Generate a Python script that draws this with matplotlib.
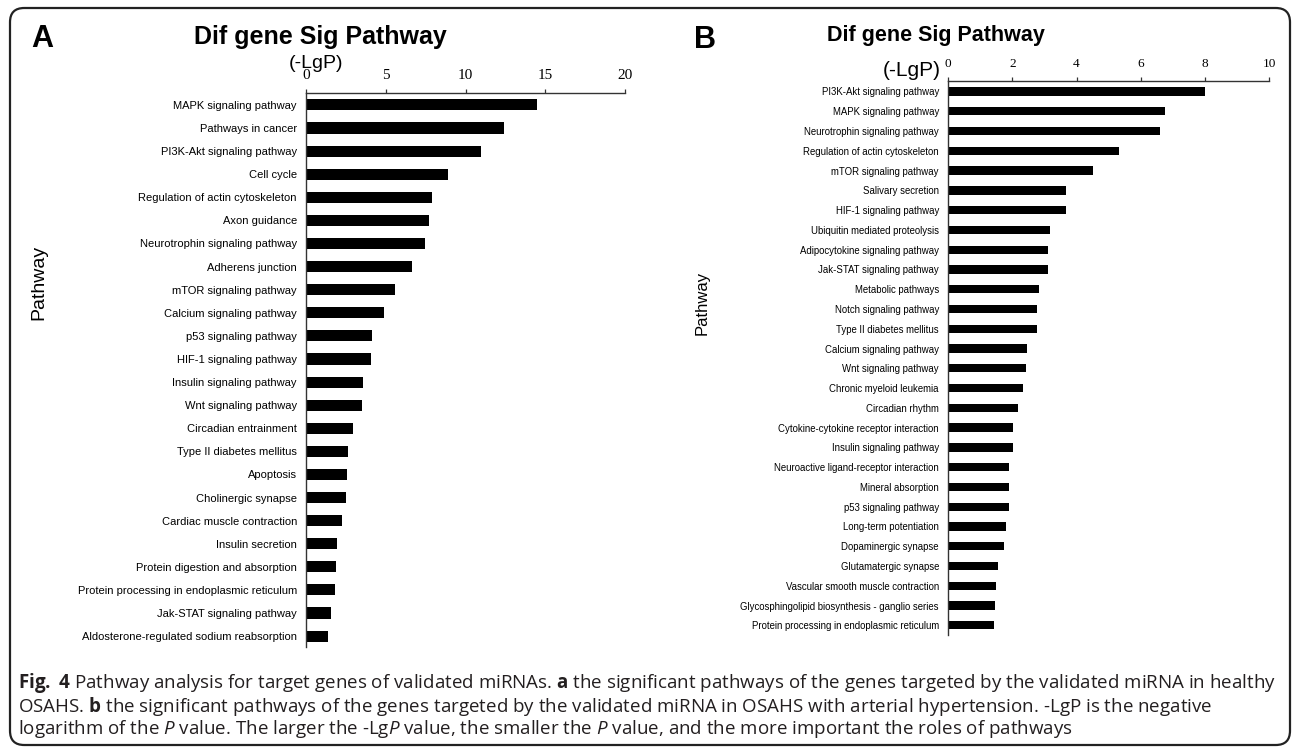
"""Pathway enrichment bars for target genes of validated miRNAs (two panels)."""
import matplotlib

matplotlib.use("Agg")
import matplotlib.pyplot as plt  # noqa: E402
from matplotlib import font_manager as fm  # noqa: E402
from matplotlib.patches import FancyBboxPatch  # noqa: E402

# panel A: healthy OSAHS
paths_a = [
    "MAPK signaling pathway", "Pathways in cancer", "PI3K-Akt signaling pathway",
    "Cell cycle", "Regulation of actin cytoskeleton", "Axon guidance",
    "Neurotrophin signaling pathway", "Adherens junction", "mTOR signaling pathway",
    "Calcium signaling pathway", "p53 signaling pathway", "HIF-1 signaling pathway",
    "Insulin signaling pathway", "Wnt signaling pathway", "Circadian entrainment",
    "Type II diabetes mellitus", "Apoptosis", "Cholinergic synapse",
    "Cardiac muscle contraction", "Insulin secretion", "Protein digestion and absorption",
    "Protein processing in endoplasmic reticulum", "Jak-STAT signaling pathway",
    "Aldosterone-regulated sodium reabsorption",
]
lgp_a = [14.5, 12.4, 10.95, 8.9, 7.89, 7.72, 7.43, 6.62, 5.56, 4.9, 4.16, 4.07,
         3.56, 3.5, 2.94, 2.66, 2.55, 2.48, 2.24, 1.95, 1.89, 1.82, 1.54, 1.41]
ticks_a = [0, 5, 10, 15, 20]

# panel B: OSAHS with arterial hypertension
paths_b = [
    "PI3K-Akt signaling pathway", "MAPK signaling pathway", "Neurotrophin signaling pathway",
    "Regulation of actin cytoskeleton", "mTOR signaling pathway", "Salivary secretion",
    "HIF-1 signaling pathway", "Ubiquitin mediated proteolysis",
    "Adipocytokine signaling pathway", "Jak-STAT signaling pathway", "Metabolic pathways",
    "Notch signaling pathway", "Type II diabetes mellitus", "Calcium signaling pathway",
    "Wnt signaling pathway", "Chronic myeloid leukemia", "Circadian rhythm",
    "Cytokine-cytokine receptor interaction", "Insulin signaling pathway",
    "Neuroactive ligand-receptor interaction", "Mineral absorption", "p53 signaling pathway",
    "Long-term potentiation", "Dopaminergic synapse", "Glutamatergic synapse",
    "Vascular smooth muscle contraction", "Glycosphingolipid biosynthesis - ganglio series",
    "Protein processing in endoplasmic reticulum",
]
lgp_b = [8.0, 6.75, 6.6, 5.31, 4.52, 3.66, 3.66, 3.16, 3.1, 3.1, 2.82, 2.77, 2.77, 2.47,
         2.44, 2.34, 2.17, 2.01, 2.01, 1.91, 1.89, 1.89, 1.79, 1.74, 1.56, 1.5, 1.47, 1.44]
ticks_b = [0, 2, 4, 6, 8, 10]

caption_lines = [
    r"$\mathbf{Fig.\ 4}$ Pathway analysis for target genes of validated miRNAs. $\mathbf{a}$ "
    r"the significant pathways of the genes targeted by the validated miRNA in healthy",
    r"OSAHS. $\mathbf{b}$ the significant pathways of the genes targeted by the validated "
    r"miRNA in OSAHS with arterial hypertension. -LgP is the negative",
    r"logarithm of the $\mathit{P}$ value. The larger the -Lg$\mathit{P}$ value, the smaller "
    r"the $\mathit{P}$ value, and the more important the roles of pathways",
]

W, H, DPI = 1295, 747, 100
SANS = "Liberation Sans"
SERIF = "Liberation Serif"
_available = {f.name for f in fm.fontManager.ttflist}
CAPTION = next((n for n in ["Liberation Sans Narrow", "Open Sans", SANS] if n in _available),
               "DejaVu Sans")

plt.rcParams["font.family"] = [SANS, "DejaVu Sans"]
plt.rcParams["mathtext.fontset"] = "custom"
plt.rcParams["mathtext.rm"] = CAPTION
plt.rcParams["mathtext.it"] = CAPTION + ":italic"
plt.rcParams["mathtext.bf"] = CAPTION + ":bold"


def fx(px):
    return px / W


def fy(py):
    return 1 - py / H


def pathway_panel(fig, box, names, values, ticks, ylim, bar_h, label_size, tick_size):
    """box = (left, top, right, bottom) in pixels."""
    l, t, r, b = box
    ax = fig.add_axes([fx(l), fy(b), fx(r - l), (b - t) / H])
    pos = list(range(len(names)))
    ax.barh(pos, values, height=bar_h, color="black")
    ax.set_xlim(ticks[0], ticks[-1])
    ax.set_ylim(*ylim)
    ax.set_yticks(pos)
    ax.set_yticklabels(names, fontsize=label_size, family=SANS)
    ax.set_xticks(ticks)
    ax.set_xticklabels([str(v) for v in ticks], family=SERIF, fontsize=tick_size)
    ax.xaxis.tick_top()
    ax.tick_params(axis="x", direction="out", length=3, width=0.9, color="#333333", pad=5)
    ax.tick_params(axis="y", length=0, pad=6.5)
    for side in ("right", "bottom"):
        ax.spines[side].set_visible(False)
    for side in ("top", "left"):
        ax.spines[side].set_color("#333333")
        ax.spines[side].set_linewidth(1.0)
    return ax


fig = plt.figure(figsize=(W / DPI, H / DPI), dpi=DPI)

# outer rounded frame
frame = FancyBboxPatch((fx(10), fy(745)), fx(1280), (745 - 8) / H,
                       boxstyle="round,pad=0,rounding_size=0.011",
                       mutation_aspect=W / H, transform=fig.transFigure,
                       facecolor="none", edgecolor="#222222", linewidth=1.6)
fig.patches.append(frame)

pathway_panel(fig, (306, 92.7, 625, 646.7), paths_a, lgp_a, ticks_a,
              (23.46, -0.53), 0.48, 8, 11)
pathway_panel(fig, (948, 80.7, 1269.3, 635), paths_b, lgp_b, ticks_b,
              (27.49, -0.546), 0.42, 6.9, 9.5)

# panel headings
fig.text(fx(42), fy(39), "A", fontsize=22, fontweight="bold", ha="center", va="center")
fig.text(fx(320), fy(37), "Dif gene Sig Pathway", fontsize=18, fontweight="bold",
         ha="center", va="center")
fig.text(fx(316), fy(63), "(-LgP)", fontsize=14, ha="center", va="center")
fig.text(fx(38.5), fy(282), "Pathway", fontsize=14, rotation=90, ha="center", va="center")

fig.text(fx(705), fy(40), "B", fontsize=22, fontweight="bold", ha="center", va="center")
fig.text(fx(935.5), fy(36), "Dif gene Sig Pathway", fontsize=15.5, fontweight="bold",
         ha="center", va="center")
fig.text(fx(941), fy(70), "(-LgP)", fontsize=15, ha="right", va="center")
fig.text(fx(702.5), fy(303), "Pathway", fontsize=12, rotation=90, ha="center", va="center")

# caption, sized so the first line fills the frame width
renderer = fig.canvas.get_renderer()
probe = fig.text(0, 0, caption_lines[0], fontsize=12, family=CAPTION)
cap_size = 12 * 1254 / probe.get_window_extent(renderer=renderer).width
probe.remove()
for i, line in enumerate(caption_lines):
    fig.text(fx(18), fy(683 + 23 * i), line, fontsize=cap_size, family=CAPTION,
             color="#231f20", ha="left", va="center")

fig.savefig("out.png", dpi=DPI)
plt.close(fig)
